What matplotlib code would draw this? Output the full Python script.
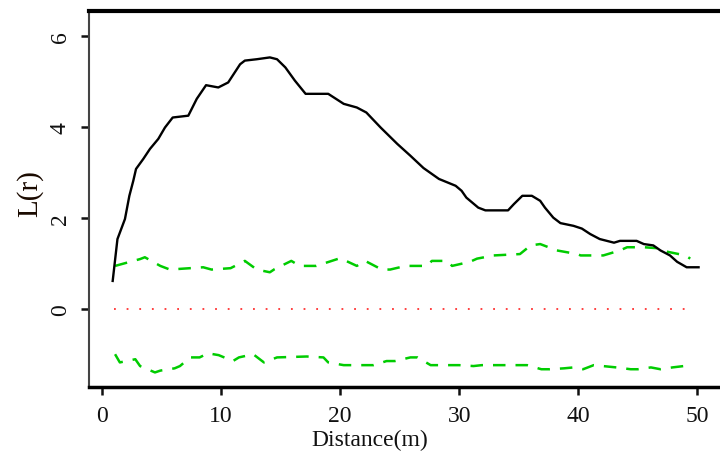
import numpy as np
import matplotlib.pyplot as plt

# Observed L(r) curve
r_obs = [0.9, 1.3, 1.93, 2.3, 2.63, 2.86, 3.47, 4.03, 4.73, 5.29, 5.94, 7.25, 7.96, 8.74, 9.77,
         10.6, 11.6, 12.0, 13.0, 14.1, 14.7, 15.4, 16.2, 17.1, 19.0, 20.3, 21.4, 22.2, 23.4,
         24.8, 25.9, 27.0, 28.3, 29.7, 30.2, 30.6, 31.6, 32.2, 34.1, 34.6, 35.3, 36.1, 36.8,
         37.2, 37.9, 38.5, 39.6, 40.3, 41.0, 41.8, 43.0, 43.5, 44.9, 45.5, 46.3, 46.9, 47.7,
         48.3, 49.1, 50.1]
L_obs = [0.62, 1.54, 1.98, 2.49, 2.82, 3.08, 3.30, 3.52, 3.74, 3.99, 4.21, 4.25, 4.62, 4.92, 4.87,
         4.98, 5.38, 5.46, 5.49, 5.53, 5.49, 5.31, 5.02, 4.73, 4.73, 4.51, 4.43, 4.32, 3.99,
         3.63, 3.37, 3.10, 2.86, 2.71, 2.60, 2.45, 2.23, 2.17, 2.17, 2.31, 2.49, 2.49, 2.38,
         2.23, 2.01, 1.89, 1.83, 1.77, 1.65, 1.54, 1.46, 1.50, 1.50, 1.43, 1.40, 1.29, 1.18,
         1.04, 0.92, 0.92]

# Upper envelope
r_up = [1.1, 3.2, 3.6, 4.9, 5.7, 7.4, 8.5, 9.2, 10.8, 12.0, 13.0, 14.1, 14.5, 15.9, 16.6, 18.0,
        20.0, 21.4, 22.1, 23.5, 24.2, 25.5, 27.3, 27.7, 29.0, 29.4, 30.9, 31.5, 32.9, 35.1,
        36.0, 36.8, 38.2, 39.9, 40.2, 42.1, 43.5, 44.1, 45.5, 46.6, 47.5, 49.0, 49.4]
L_up = [0.95, 1.10, 1.14, 0.95, 0.87, 0.90, 0.92, 0.87, 0.90, 1.06, 0.87, 0.81, 0.88, 1.06, 0.95,
        0.95, 1.12, 0.95, 1.06, 0.87, 0.87, 0.95, 0.95, 1.06, 1.06, 0.95, 1.04, 1.11, 1.18, 1.21,
        1.40, 1.43, 1.29, 1.21, 1.18, 1.18, 1.29, 1.36, 1.36, 1.34, 1.26, 1.18, 1.11]

# Lower envelope
r_lo = [1.1, 1.5, 2.8, 3.2, 4.45, 4.9, 6.1, 6.55, 7.4, 8.2, 8.9, 9.8, 11.0, 11.5, 12.7, 13.6,
        14.7, 17.2, 18.6, 19.0, 20.3, 22.8, 23.9, 24.6, 25.9, 26.5, 27.6, 28.5, 30.0, 31.2,
        31.9, 34.0, 35.7, 36.9, 37.6, 38.8, 39.6, 40.4, 41.3, 43.2, 44.4, 45.0, 46.1, 46.9,
        47.9, 49.5]
L_lo = [-0.99, -1.17, -1.10, -1.25, -1.39, -1.35, -1.30, -1.25, -1.06, -1.06, -0.97, -1.01,
        -1.14, -1.06, -0.99, -1.17, -1.06, -1.04, -1.06, -1.17, -1.23, -1.23, -1.14, -1.14,
        -1.06, -1.06, -1.23, -1.23, -1.23, -1.25, -1.23, -1.23, -1.23, -1.32, -1.32, -1.30,
        -1.28, -1.32, -1.23, -1.28, -1.32, -1.32, -1.28, -1.32, -1.28, -1.23]

# Theoretical (CSR) line
r_theo = [1.0, 49.5]
L_theo = [0.0, 0.0]

x_ticks = [0, 10, 20, 30, 40, 50]
y_ticks = [0, 2, 4, 6]

plt.rcParams['font.family'] = ['Liberation Serif', 'DejaVu Serif']

fig = plt.figure(figsize=(7.2, 4.52), dpi=100)
ax = fig.add_axes([0.1236, 0.1416, 0.8764, 0.8319])

ax.plot(r_up, L_up, color='#00cc00', lw=1.8, linestyle=(0, (5, 4)))
ax.plot(r_lo, L_lo, color='#00cc00', lw=1.8, linestyle=(0, (5, 4)))
ax.plot(r_theo, L_theo, color='#ff3030', lw=1.3, linestyle=(0, (1, 6)))
ax.plot(r_obs, L_obs, color='black', lw=1.7)

ax.set_xlim(-1.09, 51.9)
ax.set_ylim(-1.71, 6.55)
ax.set_xticks(x_ticks)
ax.set_yticks(y_ticks)
ax.tick_params(direction='out', length=6, width=1.8, labelsize=17, colors='#111111')
ax.tick_params(axis='x', pad=7)
ax.tick_params(axis='y', pad=7)
for lab in ax.get_yticklabels():
    lab.set_rotation(90)
    lab.set_va('center')

ax.spines['right'].set_visible(False)
ax.spines['top'].set_linewidth(3)
ax.spines['bottom'].set_linewidth(2.5)
ax.spines['left'].set_linewidth(1.5)
ax.spines['left'].set_color('#444444')

ax.set_xlabel('Distance(m)', fontsize=17, color='#111111', va='center')
ax.xaxis.set_label_coords(0.445, -0.139)
ax.set_ylabel('L(r)', fontsize=21, color='#1a0a00', va='center')
ax.yaxis.set_label_coords(-0.094, 0.517)

fig.savefig('out.png', dpi=100)
